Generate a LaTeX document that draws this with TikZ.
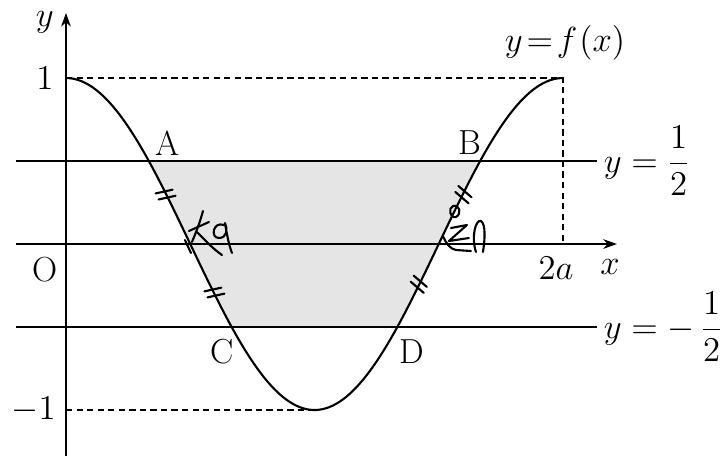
\RequirePackage{fix-cm}
\documentclass[tikz,border=0pt]{standalone}
\usepackage{amsmath}
\usetikzlibrary{arrows.meta,decorations.markings}

\newcommand{\hatch}{\draw[line width=1pt, line cap=round] (-2.4pt,-4pt) -- (-0.4pt,4pt) (0.8pt,-4pt) -- (2.8pt,4pt);}

\begin{document}
\begin{tikzpicture}[
    x=4.142cm, y=2.767cm, >={Stealth[length=6.5pt, width=4.6pt]},
    font=\fontsize{16.5}{19.5}\selectfont,
    axis/.style={->, line width=0.6pt},
    guide/.style={dash pattern=on 3pt off 2pt, line width=0.5pt},
    level/.style={line width=0.55pt},
    curve/.style={line width=1pt},
    twoticks/.style 2 args={decoration={markings,
        mark=at position #1 with {\hatch},
        mark=at position #2 with {\hatch}}, postaction={decorate}},
    scribble/.style={line width=1pt, line cap=round, line join=round}
]
\useasboundingbox (-0.2656,-1.277) rectangle (2.648,1.470);

% shaded part between y=1/2 and y=-1/2
\fill[gray!20] plot[domain=0.3333:0.6667, samples=30] (\x,{cos(180*\x)})
    -- plot[domain=1.3333:1.6667, samples=30] (\x,{cos(180*\x)}) -- cycle;

\coordinate (A) at (0.3333,0.5);
\coordinate (B) at (1.6667,0.5);
\coordinate (C) at (0.6667,-0.5);
\coordinate (D) at (1.3333,-0.5);

% level lines
\node[anchor=west] (half)  at (2.135,0.5)  {$y=\dfrac{1}{2}$};
\node[anchor=west] (mhalf) at (2.135,-0.5) {$y=-\,\dfrac{1}{2}$};
\coordinate (hl) at (-0.201,0.5);
\coordinate (ml) at (-0.201,-0.5);
\draw[level] (hl) -- (half);
\draw[level] (ml) -- (mhalf);
\draw[line width=0.9pt] (A) -- (B) (C) -- (D);

% axes
\coordinate (xl) at (-0.201,0);
\coordinate (xr) at (2.217,0);
\coordinate (yb) at (0,-1.277);
\coordinate (yt) at (0,1.392);
\draw[axis] (xl) -- (xr);
\draw[axis] (yb) -- (yt);

% dashed guides
\coordinate (top0) at (0,1);
\coordinate (top2) at (2,1);
\coordinate (two)  at (2,0);
\coordinate (bot0) at (0,-1);
\coordinate (bot1) at (1,-1);
\draw[guide] (top0) -- (top2) -- (two);
\draw[guide] (bot0) -- (bot1);

% y = f(x)
\draw[curve] plot[domain=0:2, samples=150, smooth] (\x,{cos(180*\x)});

% labels
\node (ylab) at (-0.085,1.337) {$y$};
\node (xlab) at (2.189,-0.14)   {$x$};
\node (orig) at (-0.085,-0.157) {O};
\node (one)  at (-0.085,1)      {$1$};
\node[anchor=east] (mone) at (-0.012,-1) {$-1$};
\node (twoa) at (1.972,-0.145)  {$2a$};
\node (fx)   at (2.008,1.211)   {$y\!=\!f\mskip1mu(x)$};
\node (la)   at (0.41,0.608)    {A};
\node (lb)   at (1.626,0.608)   {B};
\node (lc)   at (0.628,-0.651)  {C};
\node (ld)   at (1.392,-0.651)  {D};

% equal marks on the sides
\path[twoticks={0.2}{0.79}] (A) -- (C);
\path[twoticks={0.2}{0.74}] (B) -- (D);

% handwritten notes
\begin{scope}[x=1cm/60, y=-1cm/60, xshift=-1.1cm, yshift=4.0667cm]
\draw[scribble] (203,211) .. controls (200,222) and (197,230) .. (192,242);
\draw[scribble] (189,231) -- (209,222);
\draw[scribble] (197,232) .. controls (205,240) and (212,248) .. (222,255);
\draw[scribble] (185,240) -- (191,253);
\draw[scribble] (224,225) .. controls (213,221) and (210,238) .. (219,238)
    .. controls (227,238) and (228,229) .. (225,223)
    .. controls (227,235) and (229,245) .. (232,253);
\draw[scribble] (453,206) .. controls (460,204) and (462,214) .. (456,217)
    .. controls (450,219) and (448,208) .. (453,206);
\draw[scribble] (451,228) -- (467,225) -- (449,241) -- (469,238);
\draw[scribble] (443,236) .. controls (446,243) and (450,249) .. (456,250) -- (471,251);
\draw[scribble] (476,252) .. controls (471,236) and (476,219) .. (481,221)
    .. controls (486,224) and (485,240) .. (483,252);
\end{scope}
\end{tikzpicture}
\end{document}
